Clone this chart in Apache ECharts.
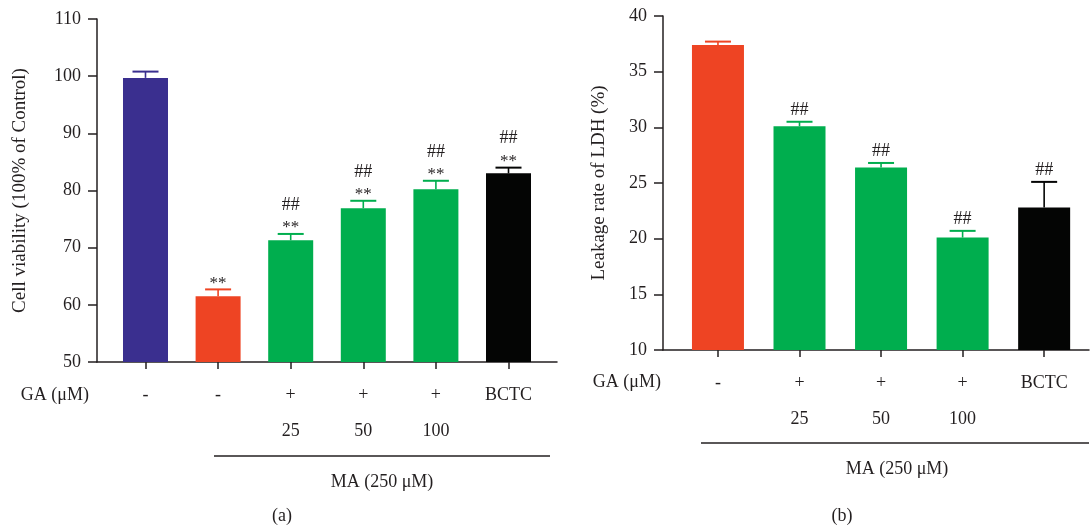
<!DOCTYPE html>
<html>
<head>
<meta charset="utf-8">
<script src="https://cdn.jsdelivr.net/npm/echarts@6/dist/echarts.min.js"></script>
<style>
  html, body { margin: 0; padding: 0; background: #ffffff; }
  #chart { width: 1091px; height: 528px; }
</style>
</head>
<body>
<div id="chart"></div>
<script>
// ---- (a) cell viability, % of control ----
const gaRowA = ['-', '-', '+', '+', '+', 'BCTC'];
const doseRowA = ['', '', '25', '50', '100', ''];
const viability = [99.7, 61.5, 71.3, 76.9, 80.2, 83.0];
const viabilitySem = [1.1, 1.2, 1.1, 1.3, 1.5, 1.0];
const starsA = ['', '**', '**', '**', '**', '**'];
const hashA = ['', '', '##', '##', '##', '##'];
const yTicksA = [50, 60, 70, 80, 90, 100, 110];

// ---- (b) LDH leakage rate, % ----
const gaRowB = ['-', '+', '+', '+', 'BCTC'];
const doseRowB = ['', '25', '50', '100', ''];
const ldh = [37.4, 30.1, 26.4, 20.1, 22.8];
const ldhSem = [0.3, 0.4, 0.4, 0.6, 2.3];
const hashB = ['', '##', '##', '##', '##'];
const yTicksB = [10, 15, 20, 25, 30, 35, 40];

// ---- styling ----
const FONT = "'Liberation Serif', 'Times New Roman', serif";
const INK = '#231f20';
const PURPLE = '#3a2f8f', RED = '#ee4423', GREEN = '#00ae4e', BLACK = '#040504';
const colorsA = [PURPLE, RED, GREEN, GREEN, GREEN, BLACK];
const colorsB = [RED, GREEN, GREEN, GREEN, BLACK];

const idxA = gaRowA.map((_, i) => i);
const idxB = gaRowB.map((_, i) => i);

function groupLabel(gaRow, doseRow) {
  return function (v) {
    const i = Math.round(v);
    return doseRow[i] ? gaRow[i] + '\n' + doseRow[i] : gaRow[i];
  };
}

function xAxisFor(gridIndex, idx, gaRow, doseRow, min, max) {
  return {
    type: 'value', gridIndex, min, max,
    splitLine: { show: false },
    axisLine: { show: true, onZero: false, lineStyle: { color: INK, width: 1.5 } },
    axisTick: { show: true, customValues: idx, length: 7, lineStyle: { color: INK, width: 1.5 } },
    axisLabel: {
      customValues: idx, formatter: groupLabel(gaRow, doseRow),
      color: INK, fontFamily: FONT, fontSize: 18, lineHeight: 36, margin: 15
    }
  };
}

function yAxisFor(gridIndex, ticks, name, nameGap) {
  return {
    type: 'value', gridIndex,
    min: ticks[0], max: ticks[ticks.length - 1], interval: ticks[1] - ticks[0],
    name, nameLocation: 'middle', nameGap,
    nameTextStyle: { color: INK, fontFamily: FONT, fontSize: 19 },
    splitLine: { show: false },
    axisLine: { show: true, onZero: false, lineStyle: { color: INK, width: 1.5 } },
    axisTick: { show: true, length: 9, lineStyle: { color: INK, width: 1.5 } },
    axisLabel: { color: INK, fontFamily: FONT, fontSize: 18, margin: 16 }
  };
}

function barData(values, colors) {
  return values.map((v, i) => ({ value: [i, v], itemStyle: { color: colors[i] } }));
}

// error bar (mean + SEM) with significance marks stacked above the cap
function errorRenderer(colors, stars, hashes, markGap) {
  return function (params, api) {
    const i = params.dataIndex;
    const base = api.coord([api.value(0), api.value(1)]);
    const top = api.coord([api.value(0), api.value(1) + api.value(2)]);
    const col = colors[i];
    const kids = [
      { type: 'line', shape: { x1: base[0], y1: base[1], x2: top[0], y2: top[1] },
        style: { stroke: col, lineWidth: 1.6 } },
      { type: 'line', shape: { x1: top[0] - 13, y1: top[1], x2: top[0] + 13, y2: top[1] },
        style: { stroke: col, lineWidth: 2 } }
    ];
    let y = top[1] - markGap;
    if (stars && stars[i]) {
      kids.push({ type: 'text', x: top[0], y: y + 4,
        style: { text: stars[i], fill: INK, font: '17px ' + FONT, align: 'center', verticalAlign: 'middle' } });
      y -= 19;
    }
    if (hashes[i]) {
      kids.push({ type: 'text', x: top[0], y: y,
        style: { text: hashes[i], fill: INK, font: '18px ' + FONT, align: 'center', verticalAlign: 'middle' } });
    }
    return { type: 'group', children: kids };
  };
}

const chart = echarts.init(document.getElementById('chart'), null, { renderer: 'canvas' });

chart.setOption({
  animation: false,
  backgroundColor: '#ffffff',
  grid: [
    { left: 97, top: 19, width: 460, height: 343, outerBoundsMode: 'none' },
    { left: 663, top: 16, width: 426, height: 334, outerBoundsMode: 'none' }
  ],
  xAxis: [
    xAxisFor(0, idxA, gaRowA, doseRowA, -0.668, 5.668),
    xAxisFor(1, idxB, gaRowB, doseRowB, -0.674, 4.55)
  ],
  yAxis: [
    yAxisFor(0, yTicksA, 'Cell viability (100% of Control)', 67),
    yAxisFor(1, yTicksB, 'Leakage rate of LDH (%)', 54)
  ],
  series: [
    { type: 'bar', xAxisIndex: 0, yAxisIndex: 0, barWidth: 45, data: barData(viability, colorsA), z: 2 },
    { type: 'custom', xAxisIndex: 0, yAxisIndex: 0, z: 3,
      data: viability.map((v, i) => [i, v, viabilitySem[i]]),
      renderItem: errorRenderer(colorsA, starsA, hashA, 10) },
    { type: 'bar', xAxisIndex: 1, yAxisIndex: 1, barWidth: 52, data: barData(ldh, colorsB), z: 2 },
    { type: 'custom', xAxisIndex: 1, yAxisIndex: 1, z: 3,
      data: ldh.map((v, i) => [i, v, ldhSem[i]]),
      renderItem: errorRenderer(colorsB, null, hashB, 12) }
  ],
  graphic: [
    { type: 'text', x: 89, y: 395, style: { text: 'GA (μM)', fill: INK, font: '18px ' + FONT, align: 'right', verticalAlign: 'middle' } },
    { type: 'line', shape: { x1: 214, y1: 456, x2: 550, y2: 456 }, style: { stroke: INK, lineWidth: 1.3 } },
    { type: 'text', x: 382, y: 482, style: { text: 'MA (250 μM)', fill: INK, font: '18px ' + FONT, align: 'center', verticalAlign: 'middle' } },
    { type: 'text', x: 282, y: 516, style: { text: '(a)', fill: INK, font: '18px ' + FONT, align: 'center', verticalAlign: 'middle' } },

    { type: 'text', x: 661, y: 382, style: { text: 'GA (μM)', fill: INK, font: '18px ' + FONT, align: 'right', verticalAlign: 'middle' } },
    { type: 'line', shape: { x1: 701, y1: 443, x2: 1089, y2: 443 }, style: { stroke: INK, lineWidth: 1.3 } },
    { type: 'text', x: 897, y: 469, style: { text: 'MA (250 μM)', fill: INK, font: '18px ' + FONT, align: 'center', verticalAlign: 'middle' } },
    { type: 'text', x: 842, y: 516, style: { text: '(b)', fill: INK, font: '18px ' + FONT, align: 'center', verticalAlign: 'middle' } }
  ]
});
</script>
</body>
</html>
